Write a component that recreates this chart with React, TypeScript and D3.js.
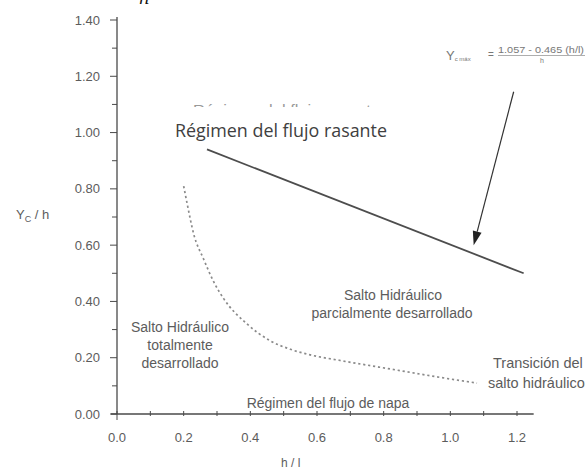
import React from "react";
import * as d3 from "d3";

const yTicks = [0, 0.2, 0.4, 0.6, 0.8, 1.0, 1.2, 1.4];
const yMinorTicks = [0.1, 0.3, 0.5, 0.7, 0.9, 1.1, 1.3];
const xTicks = [0, 0.2, 0.4, 0.6, 0.8, 1.0, 1.2];
const xMinorTicks = [0.1, 0.3, 0.5, 0.7, 0.9, 1.1];

// solid limit line Yc/h = 1.057 - 0.465 (h/l)
const limitX = [0.27, 1.22];
const limitY = [0.94, 0.5];

// dotted boundary curve
const curveX = [0.2, 0.21, 0.23, 0.26, 0.29, 0.32, 0.39, 0.46, 0.52, 0.58, 0.67, 0.82, 0.97, 1.08];
const curveY = [0.81, 0.75, 0.64, 0.55, 0.47, 0.41, 0.32, 0.26, 0.23, 0.21, 0.19, 0.16, 0.13, 0.11];

// arrow annotation (data units)
const arrowFrom = [1.19, 1.145];
const arrowTo = [1.07, 0.6];

export default function App() {
  const W = 587, H = 471;
  const x = d3.scaleLinear().domain([0, 1.2]).range([117, 517]);
  const y = d3.scaleLinear().domain([0, 1.4]).range([414, 20]);
  const axisColor = "#4a4a4a";
  const textColor = "#5c5c5c";
  const font = "Arial, 'Liberation Sans', sans-serif";

  const limitPts: [number, number][] = limitX.map((v, i) => [x(v), y(limitY[i])]);
  const curvePts: [number, number][] = curveX.map((v, i) => [x(v), y(curveY[i])]);
  const line = d3.line().curve(d3.curveMonotoneX);
  const straight = d3.line();

  const ax0 = x(arrowFrom[0]), ay0 = y(arrowFrom[1]);
  const ax1 = x(arrowTo[0]), ay1 = y(arrowTo[1]);
  const ang = Math.atan2(ay1 - ay0, ax1 - ax0);
  const hl = 14, hw = 4.5;
  const bx = ax1 - hl * Math.cos(ang), by = ay1 - hl * Math.sin(ang);
  const head = `M${ax1},${ay1} L${bx + hw * Math.sin(ang)},${by - hw * Math.cos(ang)} L${bx - hw * Math.sin(ang)},${by + hw * Math.cos(ang)} Z`;

  return (
    <svg width={W} height={H} style={{ position: "absolute", left: 0, top: 0, background: "#fff" }}>
      <defs>
        <clipPath id="cutText">
          <rect x={0} y={102} width={W} height={5} />
        </clipPath>
      </defs>
      <rect width={W} height={H} fill="#fff" />
      {/* partial italic h at top */}
      <text x={139} y={4} fontFamily="'DejaVu Serif', serif" fontStyle="italic" fontSize={17} fill="#111">h</text>

      {/* axes */}
      <line x1={x(0)} x2={x(0)} y1={17} y2={y(0)} stroke={axisColor} strokeWidth={1.3} />
      <line x1={x(0) - 6} x2={x(1.25)} y1={y(0)} y2={y(0)} stroke={axisColor} strokeWidth={1.3} />
      {yTicks.map((t) => (
        <g key={"yt" + t}>
          <line x1={x(0) - 7} x2={x(0)} y1={y(t)} y2={y(t)} stroke={axisColor} strokeWidth={1} />
          <text x={100} y={y(t) + 4.5} textAnchor="end" fontFamily={font} fontSize={13} fill={textColor}>
            {t.toFixed(2)}
          </text>
        </g>
      ))}
      {yMinorTicks.map((t) => (
        <line key={"ym" + t} x1={x(0) - 5} x2={x(0)} y1={y(t)} y2={y(t)} stroke={axisColor} strokeWidth={1} />
      ))}
      {xTicks.map((t) => (
        <g key={"xt" + t}>
          <line x1={x(t)} x2={x(t)} y1={y(0) - 3} y2={y(0) + (t === 0 ? 6 : 2)} stroke={axisColor} strokeWidth={1} />
          <text x={x(t)} y={y(0) + 28} textAnchor="middle" fontFamily={font} fontSize={13} fill={textColor}>
            {t.toFixed(1)}
          </text>
        </g>
      ))}
      {xMinorTicks.map((t) => (
        <line key={"xm" + t} x1={x(t)} x2={x(t)} y1={y(0) - 3} y2={y(0) + 2} stroke={axisColor} strokeWidth={1} />
      ))}

      {/* axis titles */}
      <text x={16} y={219} fontFamily={font} fontSize={13} fill={textColor}>
        Y<tspan fontSize={9} dy={3}>C</tspan><tspan dy={-3}> / h</tspan>
      </text>
      <text x={281} y={467} fontFamily={font} fontSize={12} fill={textColor}>h / l</text>

      {/* curves */}
      <path d={straight(limitPts) || ""} fill="none" stroke="#4d4d4d" strokeWidth={1.8} />
      <path d={line(curvePts) || ""} fill="none" stroke="#8a8a8a" strokeWidth={1.7} strokeDasharray="2.2,2.8" />

      {/* arrow */}
      <line x1={ax0} y1={ay0} x2={bx} y2={by} stroke="#333" strokeWidth={1.2} />
      <path d={head} fill="#222" />

      {/* formula */}
      <g fontFamily={font} fill="#777">
        <text x={446} y={60} fontSize={13}>Y<tspan fontSize={6} dy={1}>c máx</tspan></text>
        <text x={488} y={58} fontSize={10}>=</text>
        <text x={498} y={53} fontSize={8.5} textLength={86} lengthAdjust="spacingAndGlyphs">1.057 - 0.465 (h/l)</text>
        <line x1={498} x2={585} y1={55.5} y2={55.5} stroke="#999" strokeWidth={0.8} />
        <text x={540} y={63} fontSize={7}>h</text>
      </g>

      {/* cut-off original label */}
      <text x={193} y={115} fontFamily={font} fontSize={15} fill="#999" clipPath="url(#cutText)" textLength={187} lengthAdjust="spacingAndGlyphs">
        Régimen del flujo rasante
      </text>
      {/* overlay label */}
      <text x={175} y={137} fontFamily="'Open Sans', 'Noto Sans', sans-serif" fontSize={18} fill="#404040" textLength={212} lengthAdjust="spacingAndGlyphs">
        Régimen del flujo rasante
      </text>

      {/* region labels */}
      <g fontFamily={font} fontSize={14} fill={textColor} textAnchor="middle">
        <text x={393} y={300}>Salto Hidráulico</text>
        <text x={392} y={318}>parcialmente desarrollado</text>
        <text x={180} y={332}>Salto Hidráulico</text>
        <text x={180} y={350}>totalmente</text>
        <text x={180} y={368}>desarrollado</text>
        <text x={328} y={408}>Régimen del flujo de napa</text>
      </g>
      <g fontFamily={font} fontSize={14.5} fill={textColor}>
        <text x={493} y={368}>Transición del</text>
        <text x={488} y={388}>salto hidráulico</text>
      </g>
    </svg>
  );
}
